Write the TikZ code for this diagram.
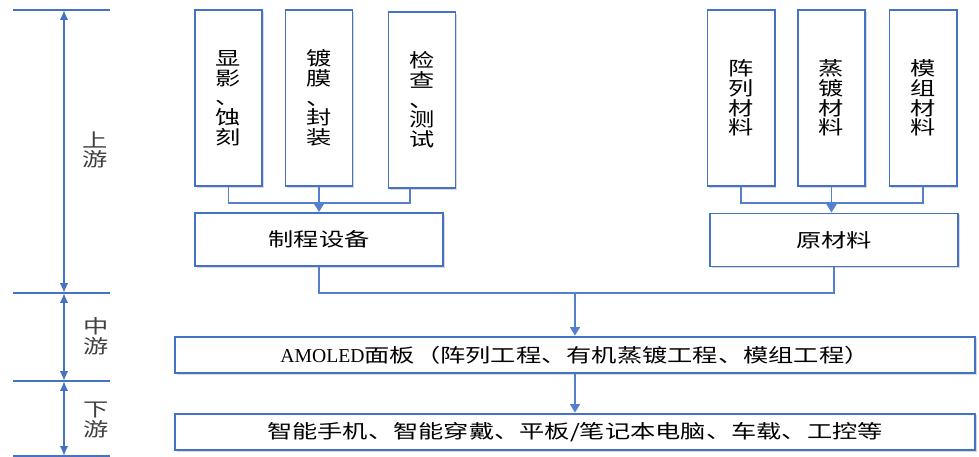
\documentclass[tikz,border=0pt]{standalone}
\usepackage{fontspec}
\setmainfont{Liberation Serif}
\newfontfamily\cjk[FakeStretch=1.33]{Noto Sans CJK SC}
\usetikzlibrary{arrows.meta, positioning, shadows}
\definecolor{boxBlue}{RGB}{68,114,196}
\definecolor{lineBlue}{RGB}{84,128,206}

\begin{document}
\begin{tikzpicture}[
    x=0.025cm, y=-0.025cm,
    font=\cjk\fontsize{13.5}{14}\selectfont,
    boxShadow/.style={drop shadow={opacity=0.3, shadow xshift=1.2pt, shadow yshift=-1.2pt}},
    tallBox/.style={draw=boxBlue, line width=1.4pt, fill=white, boxShadow, minimum width=1.675cm, minimum height=4.4cm, align=center, inner sep=0pt},
    wideBox/.style={draw=boxBlue, line width=1.4pt, fill=white, boxShadow, minimum width=6.2cm, minimum height=1.325cm, inner sep=0pt},
    longBox/.style={draw=boxBlue, line width=1.4pt, fill=white, boxShadow, minimum width=20cm, minimum height=0.92cm, inner sep=0pt},
    link/.style={draw=lineBlue, line width=1.2pt},
    linkArrow/.style={link, -{Triangle[width=7pt, length=6pt]}},
    stageLine/.style={draw=boxBlue, line width=1pt},
    stageArrow/.style={draw=boxBlue, line width=1.4pt, {Latex[width=6pt, length=7pt]}-{Latex[width=6pt, length=7pt]}},
    stageText/.style={text=black!75, align=center}
]
    \useasboundingbox (0,0) rectangle (979,457);

    % Stage axis on the left
    \foreach \y in {10, 293, 381, 456} {
        \draw [stageLine] (13,\y) -- (110,\y);
    }
    \coordinate (s0) at (64,10);
    \coordinate (s1) at (64,293);
    \coordinate (s2) at (64,381);
    \coordinate (s3) at (64,456);
    \draw [stageArrow] (s0) -- (s1);
    \draw [stageArrow] (s1) -- (s2);
    \draw [stageArrow] (s2) -- (s3);
    \node [stageText] (shangYou) at (95,150) {上\\游};
    \node [stageText] (zhongYou) at (96,336) {中\\游};
    \node [stageText] (xiaYou) at (96,420) {下\\游};

    % Upstream: equipment
    \foreach \name/\x/\y/\txt in {
        xianYing/228.5/98/显\\影\\、\\蚀\\刻,
        duMo/319/98/镀\\膜\\、\\封\\装,
        jianCha/422/100/检\\查\\、\\测\\试
    } {
        \node [tallBox] (\name) at (\x,\y) {\txt};
    }
    \node [wideBox] (zhiCheng) at (319,239.5) {制程设备};

    % Upstream: materials
    \foreach \name/\x/\txt in {
        zhenLie/741/阵\\列\\材\\料,
        zhengDu/831.5/蒸\\镀\\材\\料,
        moZu/923/模\\组\\材\\料
    } {
        \node [tallBox] (\name) at (\x,98) {\txt};
    }
    \node [wideBox] (yuanCai) at (834,240) {原材料};

    % Midstream and downstream
    \node [longBox] (amoled) at (575,355) {{\rmfamily\fontsize{14}{14}\selectfont AMOLED}面板（阵列工程、有机蒸镀工程、模组工程）};
    \node [longBox] (terminal) at (575,432) {智能手机、智能穿戴、平板/笔记本电脑、车载、工控等};

    % Connectors
    \draw [link] (xianYing.south) -- ++(0,16) -| ([xshift=-0.3cm]jianCha.south);
    \draw [linkArrow] (duMo.south) -- (zhiCheng.north);
    \draw [link] (zhenLie.south) -- ++(0,16) -| (moZu.south);
    \draw [linkArrow] (zhengDu.south) -- (zhengDu.south |- yuanCai.north);

    \coordinate (merge) at (575,292);
    \draw [link] (zhiCheng.south) -- ++(0,26) -| (yuanCai.south);
    \draw [linkArrow] (merge) -- (amoled.north);
    \draw [linkArrow] (amoled.south) -- (terminal.north);

\end{tikzpicture}
\end{document}
